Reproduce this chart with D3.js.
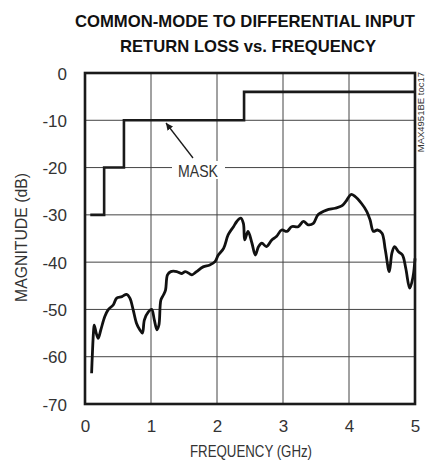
<!DOCTYPE html>
<html>
<head>
<meta charset="utf-8">
<script src="https://cdn.jsdelivr.net/npm/d3@7"></script>
<style>
  body { margin: 0; background: #fff; }
  svg { display: block; }
  text { font-family: "Liberation Sans", Arial, sans-serif; fill: #333; }
  .title { font-weight: bold; fill: #111; font-size: 16.6px; }
</style>
</head>
<body>
<svg width="426" height="463"></svg>
<script>
// measured common-mode to differential return loss
var freq = [0.10, 0.11, 0.13, 0.14, 0.17, 0.20, 0.24, 0.30, 0.35, 0.43, 0.48, 0.56, 0.63, 0.68, 0.73,
    0.78, 0.83, 0.87, 0.90, 0.96, 1.01, 1.05, 1.09, 1.12, 1.15, 1.19, 1.22, 1.25, 1.30, 1.39,
    1.46, 1.52, 1.59, 1.62, 1.69, 1.79, 1.89, 1.97, 2.02, 2.10, 2.17, 2.25, 2.30, 2.36, 2.40,
    2.42, 2.47, 2.53, 2.58, 2.63, 2.68, 2.75, 2.83, 2.90, 2.98, 3.06, 3.13, 3.23, 3.31, 3.38,
    3.46, 3.53, 3.66, 3.79, 3.89, 3.95, 4.03, 4.09, 4.19, 4.27, 4.32, 4.37, 4.43, 4.50, 4.55,
    4.61, 4.65, 4.69, 4.75, 4.81, 4.86, 4.92, 4.97, 5.00];
var magnitude = [-63.5, -60, -54.5, -53.3, -55.0, -56.1, -54.3, -51.5, -50.1, -49.0, -47.6, -47.3, -46.8, -47.6, -50.1,
    -52.9, -54.3, -55.0, -52.2, -50.5, -50.0, -52.2, -54.3, -53.3, -48.0, -46.9, -45.9, -42.7, -42.0, -42.0,
    -42.4, -42.0, -42.5, -42.7, -42.0, -41.0, -40.6, -39.9, -38.5, -37.1, -34.2, -32.5, -31.4, -30.7, -31.8,
    -35.3, -33.5, -36.0, -38.5, -36.7, -36.0, -36.7, -35.3, -34.6, -33.2, -33.5, -32.5, -32.5, -31.4, -32.1,
    -31.8, -30.0, -29.0, -28.6, -28.1, -27.2, -25.7, -26.1, -27.6, -29.3, -31.1, -33.5, -33.2, -33.9, -37.4,
    -42.0, -38.1, -36.7, -37.8, -38.5, -41.3, -45.5, -43.1, -39.2];

// mask limit (step after each breakpoint)
var maskFreq = [0.08, 0.29, 0.59, 2.41, 5.0];
var maskLevel = [-30, -20, -10, -4, -4];

var xTicks = [0, 1, 2, 3, 4, 5];
var yTicks = [0, -10, -20, -30, -40, -50, -60, -70];

var svg = d3.select("svg"),
    margin = {top: 73, right: 11, bottom: 59, left: 85},
    width = +svg.attr("width") - margin.left - margin.right,
    height = +svg.attr("height") - margin.top - margin.bottom;

var x = d3.scaleLinear().domain([0, 5]).range([0, width]);
var y = d3.scaleLinear().domain([-70, 0]).range([height, 0]);

// title
svg.append("text").attr("class", "title")
    .attr("x", 75).attr("y", 27)
    .attr("textLength", 340).attr("lengthAdjust", "spacingAndGlyphs")
    .text("COMMON-MODE TO DIFFERENTIAL INPUT");
svg.append("text").attr("class", "title")
    .attr("x", 120).attr("y", 52)
    .attr("textLength", 256).attr("lengthAdjust", "spacingAndGlyphs")
    .text("RETURN LOSS vs. FREQUENCY");

var g = svg.append("g").attr("transform", "translate(" + margin.left + "," + margin.top + ")");

// grid
g.append("g").selectAll("line")
    .data(xTicks.slice(1, -1))
    .enter().append("line")
        .attr("x1", function(d) { return x(d); })
        .attr("x2", function(d) { return x(d); })
        .attr("y1", 0).attr("y2", height)
        .attr("stroke", "#444").attr("stroke-width", 1);
g.append("g").selectAll("line")
    .data(yTicks.slice(1, -1))
    .enter().append("line")
        .attr("y1", function(d) { return y(d); })
        .attr("y2", function(d) { return y(d); })
        .attr("x1", 0).attr("x2", width)
        .attr("stroke", "#444").attr("stroke-width", 1);

// axes labels (plain hyphen for negatives, like the original)
var xAxis = g.append("g")
    .attr("transform", "translate(0," + height + ")")
    .call(d3.axisBottom(x).tickValues(xTicks).tickSize(0).tickPadding(16).tickFormat(function(d) { return String(d); }));
var yAxis = g.append("g")
    .call(d3.axisLeft(y).tickValues(yTicks).tickSize(0).tickPadding(18).tickFormat(function(d) { return String(d); }));
[xAxis, yAxis].forEach(function(a) {
    a.select(".domain").remove();
    a.selectAll("text").style("font-size", "17px").attr("fill", "#333")
        .style("font-family", "'Liberation Sans', Arial, sans-serif");
});
yAxis.selectAll("text").attr("dy", "0.36em");

svg.append("text")
    .attr("x", 190).attr("y", 457)
    .attr("textLength", 122).attr("lengthAdjust", "spacingAndGlyphs")
    .style("font-size", "16px")
    .text("FREQUENCY (GHz)");
svg.append("text")
    .attr("transform", "translate(27,302) rotate(-90)")
    .attr("textLength", 129).attr("lengthAdjust", "spacingAndGlyphs")
    .style("font-size", "16px")
    .text("MAGNITUDE (dB)");
svg.append("text")
    .attr("transform", "translate(424,72) rotate(-90)")
    .attr("text-anchor", "end").style("font-size", "9.5px").attr("fill", "#777")
    .text("MAX4951BE toc17");

// mask
var maskLine = d3.line()
    .x(function(d) { return x(d[0]); })
    .y(function(d) { return y(d[1]); })
    .curve(d3.curveStepAfter);
g.append("path")
    .datum(d3.zip(maskFreq, maskLevel))
    .attr("d", maskLine)
    .attr("fill", "none").attr("stroke", "#1a1a1a").attr("stroke-width", 2.6);

// MASK label with white box and arrow
svg.append("rect").attr("x", 172).attr("y", 161).attr("width", 53).attr("height", 18).attr("fill", "#fff");
svg.append("text").attr("x", 178).attr("y", 177)
    .attr("textLength", 40).attr("lengthAdjust", "spacingAndGlyphs")
    .style("font-size", "17px").text("MASK");

svg.append("defs").append("marker")
    .attr("id", "head")
    .attr("viewBox", "0 -5 10 10")
    .attr("refX", 10).attr("refY", 0)
    .attr("markerWidth", 7).attr("markerHeight", 7)
    .attr("markerUnits", "userSpaceOnUse")
    .attr("orient", "auto")
    .append("path").attr("d", "M0,-5 L10,0 L0,5 Z").attr("fill", "#1a1a1a");
svg.append("line")
    .attr("x1", 193).attr("y1", 158).attr("x2", 166).attr("y2", 123)
    .attr("stroke", "#1a1a1a").attr("stroke-width", 1.3)
    .attr("marker-end", "url(#head)");

// measured curve
var line = d3.line()
    .x(function(d) { return x(d[0]); })
    .y(function(d) { return y(d[1]); })
    .curve(d3.curveCatmullRom.alpha(0.5));
g.append("path")
    .datum(d3.zip(freq, magnitude))
    .attr("d", line)
    .attr("fill", "none").attr("stroke", "#111").attr("stroke-width", 2.8)
    .attr("stroke-linejoin", "round");

// frame
g.append("rect")
    .attr("width", width).attr("height", height)
    .attr("fill", "none").attr("stroke", "#1a1a1a").attr("stroke-width", 2.6);
</script>
</body>
</html>
